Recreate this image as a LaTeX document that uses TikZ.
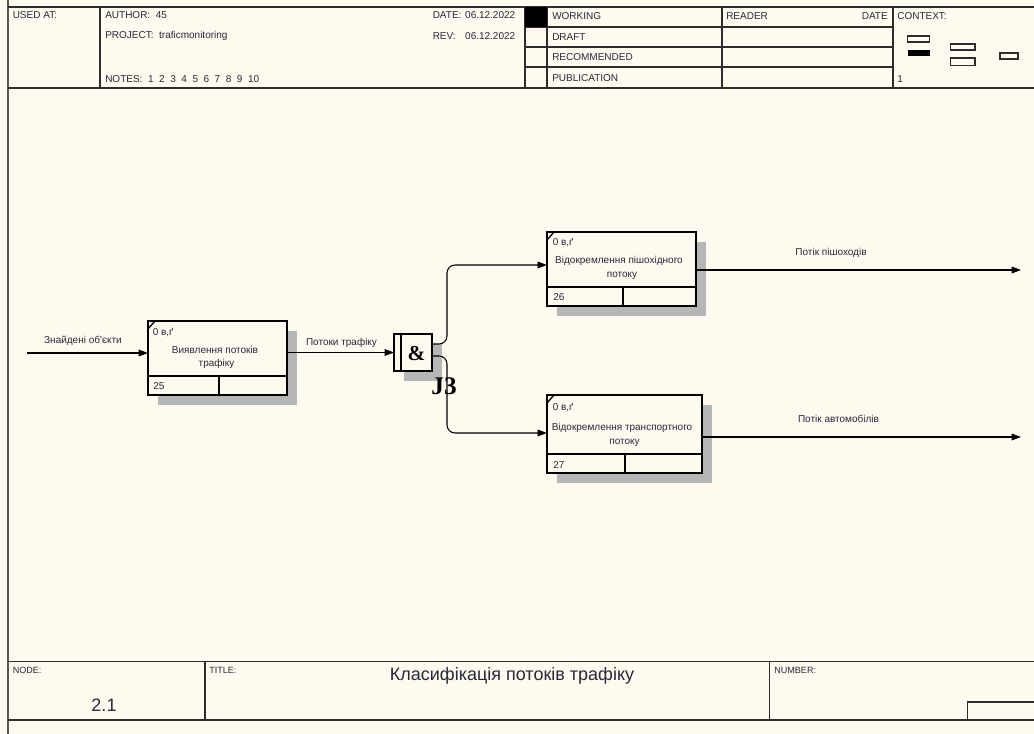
\documentclass[tikz,border=0pt]{standalone}
\usepackage{fontspec}
\setmainfont{Liberation Sans}[Ligatures=TeXOff]
\newfontfamily\serifb{Liberation Serif}[Ligatures=TeXOff]
\usetikzlibrary{arrows.meta,calc,shadows}

\definecolor{bg}{RGB}{255,250,240}
\definecolor{ink}{RGB}{40,40,55}
\definecolor{frame}{RGB}{45,45,45}
\definecolor{shadowc}{RGB}{182,182,180}

\tikzset{
 txt/.style={font=\fontsize{7.5}{8}\selectfont, inner sep=0, text=ink},
 lt/.style={txt, anchor=west},
 rt/.style={txt, anchor=east},
 ct/.style={txt, anchor=center},
 fline/.style={draw=frame, line width=0.9pt},
 actbox/.style={draw=black, fill=bg, line width=1.3pt, rectangle, inner sep=0, outer sep=0,
   drop shadow={shadow xshift=7.5pt, shadow yshift=-7.5pt, fill=shadowc, opacity=1}},
 inline/.style={draw=black, line width=1.3pt},
 arr/.style={draw=black, line width=0.8pt, -{Triangle[length=7pt,width=5pt]}},
 ctx/.style={draw=frame, line width=0.8pt},
}

\begin{document}
\begin{tikzpicture}[x=0.75pt,y=-0.75pt]
\useasboundingbox (0,0) rectangle (1034,734);
\fill[bg] (0,0) rectangle (1034,734);

% ---------- frame / header ----------
\draw[draw=frame!80, line width=1.4pt] (8,0) -- (8,734);
\draw[fline] (8,7) -- (1034,7);
\draw[fline] (8,88) -- (1034,88);
\draw[fline] (100,7) -- (100,88);
\draw[fline] (525,7) -- (525,88);
\draw[fline] (547,7) -- (547,88);
\draw[fline] (722,7) -- (722,88);
\draw[fline] (893,7) -- (893,88);
\draw[fline] (525,27) -- (893,27);
\draw[fline] (525,47) -- (893,47);
\draw[fline] (525,67) -- (893,67);
\fill[black] (525,7) rectangle (547,27);

\node[lt] (usedat) at (12.5,15) {USED AT:};
\node[lt] (author) at (105,15) {AUTHOR:\ \ 45};
\node[lt] (project) at (105,36) {PROJECT:\ \ traficmonitoring};
\node[lt] (notes) at (105,79) {NOTES:\ \ 1\ \ 2\ \ 3\ \ 4\ \ 5\ \ 6\ \ 7\ \ 8\ \ 9\ \ 10};
\node[lt] (datel) at (432.5,15) {DATE:};
\node[rt] (datev) at (515.5,15) {06.12.2022};
\node[lt] (revl) at (432.5,36) {REV:};
\node[rt] (revv) at (515.5,36) {06.12.2022};
\node[lt] (working) at (552,16) {WORKING};
\node[lt] (draft) at (552,37) {DRAFT};
\node[lt] (recom) at (552,57.5) {RECOMMENDED};
\node[lt] (publ) at (552,78) {PUBLICATION};
\node[lt] (reader) at (726,16) {READER};
\node[rt] (rdate) at (888,16) {DATE};
\node[lt] (context) at (897,16) {CONTEXT:};
\node[lt] (ctxnum) at (897,79) {1};

\draw[ctx] (907.5,36) rectangle (929.5,42);
\fill[black] (907.5,50) rectangle (930,56.5);
\draw[ctx] (950.5,44) rectangle (975,50);
\draw[ctx] (950.5,58) rectangle (975,65.5);
\draw[ctx] (1000,53) rectangle (1018,59);

% ---------- footer ----------
\draw[fline] (8,661.5) -- (1034,661.5);
\draw[fline] (8,720) -- (1034,720);
\draw[fline] (205,661.5) -- (205,720);
\draw[fline] (769.5,661.5) -- (769.5,720);
\draw[fline] (967.5,720) -- (967.5,702) -- (1034,702);
\node[lt, font=\fontsize{6.8}{8}\selectfont] (nodel) at (12.5,670.5) {NODE:};
\node[ct, font=\fontsize{13.5}{15}\selectfont] (nodev) at (104,705) {2.1};
\node[lt, font=\fontsize{6.8}{8}\selectfont] (titlel) at (209,670.5) {TITLE:};
\node[ct, font=\fontsize{13.5}{15}\selectfont] (title) at (512,676) {Класифікація потоків трафіку};
\node[lt, font=\fontsize{6.8}{8}\selectfont] (numberl) at (774,670.5) {NUMBER:};

% ---------- activity boxes ----------
\node[actbox, minimum width={139*0.75pt}, minimum height={74*0.75pt}] (b1) at (217.5,358) {};
\draw[inline] ($(b1.south west)+(0,-19)$) -- ($(b1.south east)+(0,-19)$);
\draw[inline] ($(b1.south west)+(71,0)$) -- ++(0,-19);
\draw[line width=1pt] ($(b1.north west)+(0,8)$) -- ++(7,-8);
\node[lt] (b1n) at (152.5,333) {0 в,ґ};
\node[ct] (b1t1) at (215,350) {Виявлення потоків};
\node[ct] (b1t2) at (216.5,364) {трафіку};
\node[lt] (b1id) at (153,386.5) {25};

\node[actbox, minimum width={149*0.75pt}, minimum height={74*0.75pt}] (b2) at (621.5,269) {};
\draw[inline] ($(b2.south west)+(0,-19)$) -- ($(b2.south east)+(0,-19)$);
\draw[inline] ($(b2.south west)+(76,0)$) -- ++(0,-19);
\draw[line width=1pt] ($(b2.north west)+(0,8)$) -- ++(7,-8);
\node[lt] (b2n) at (552.5,242.5) {0 в,ґ};
\node[ct] (b2t1) at (619,261) {Відокремлення пішохідного};
\node[ct] (b2t2) at (622,275.5) {потоку};
\node[lt] (b2id) at (553,297) {26};

\node[actbox, minimum width={155*0.75pt}, minimum height={78*0.75pt}] (b3) at (624.5,434) {};
\draw[inline] ($(b3.south west)+(0,-19)$) -- ($(b3.south east)+(0,-19)$);
\draw[inline] ($(b3.south west)+(78,0)$) -- ++(0,-19);
\draw[line width=1pt] ($(b3.north west)+(0,8)$) -- ++(7,-8);
\node[lt] (b3n) at (552.5,407.5) {0 в,ґ};
\node[ct] (b3t1) at (622,428) {Відокремлення транспортного};
\node[ct] (b3t2) at (624.5,442.5) {потоку};
\node[lt] (b3id) at (553,465) {27};

% ---------- junction ----------
\node[actbox, minimum width={38*0.75pt}, minimum height={37*0.75pt}] (j3) at (413,352.5) {};
\draw[inline] ($(j3.south west)+(7,0)$) -- ($(j3.north west)+(7,0)$);
\node[anchor=center, inner sep=0, font=\serifb\bfseries\fontsize{16}{18}\selectfont] (amp) at (416.5,353.5) {\&};
\node[anchor=center, inner sep=0, font=\serifb\bfseries\fontsize{19}{20}\selectfont] (j3lab) at (444,386) {J3};

% ---------- connectors ----------
\coordinate (src) at (27,353);
\draw[arr] (src) -- (src -| b1.west);
\node[ct] (l1) at (83,340.5) {Знайдені об'єкти};

\draw[arr] (b1.east |- j3.west) -- (j3.west);
\node[ct] (l2) at (341.5,342.5) {Потоки трафіку};

\coordinate (tb) at (447,265);
\draw[arr, rounded corners=6] ($(j3.north east)+(0,10)$) -| (tb) -- (tb -| b2.west);
\coordinate (bb) at (447,433);
\draw[arr, rounded corners=6] ($(j3.north east)+(0,22)$) -| (bb) -- (bb -| b3.west);

\coordinate (o2) at (1021,270);
\draw[arr] (o2 -| b2.east) -- (o2);
\node[ct] (l3) at (831,253) {Потік пішоходів};

\coordinate (o3) at (1021,437);
\draw[arr] (o3 -| b3.east) -- (o3);
\node[ct] (l4) at (838.5,418.5) {Потік автомобілів};
\end{tikzpicture}
\end{document}
